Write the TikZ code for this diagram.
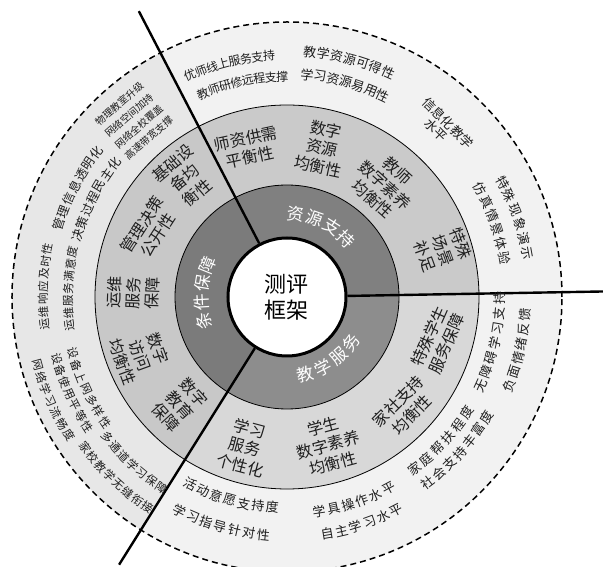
\documentclass[tikz,border=0pt]{standalone}
\usepackage{fontspec}
\setmainfont{Noto Sans CJK SC}
\definecolor{outA}{HTML}{F2F2F2}
\definecolor{outB}{HTML}{E7E7E7}
\definecolor{outC}{HTML}{F2F2F2}
\definecolor{midA}{HTML}{CACACA}
\definecolor{midB}{HTML}{C8C8C8}
\definecolor{midC}{HTML}{D8D8D8}
\definecolor{inA}{HTML}{808080}
\definecolor{inB}{HTML}{7B7B7B}
\definecolor{inC}{HTML}{8D8D8D}
\definecolor{txt}{HTML}{1E1E1E}
% #1 name, #2 style, #3 centre angle, #4 radius, #5 step, #6 dir (1 cw tops out, -1 ccw tops in), #7 chars
\newcommand\arctxt[7]{%
  \gdef\arcn{0}%
  \foreach \c in {#7}{\pgfmathtruncatemacro\arcm{\arcn+1}\global\let\arcn\arcm}%
  \foreach \c [count=\i] in {#7}{%
    \pgfmathsetmacro\th{#3-#6*(\i-(\arcn+1)/2)*#5/#4*180/pi}%
    \pgfmathsetmacro\rr{\th-#6*90}%
    \node[#2,rotate=\rr] (#1-\i) at (\th:#4) {\c};
  }}
\begin{document}
\begin{tikzpicture}[x=1pt,y=1pt,
  ringtxt/.style={inner sep=0pt, text=white, font=\fontsize{17}{17}\selectfont},
  midtxt/.style={inner sep=0pt, text=txt, font=\fontsize{16}{19}\selectfont, align=center},
  outtxt/.style={inner sep=0pt, text=txt, font=\fontsize{13}{13}\selectfont},
  outtxtM/.style={inner sep=0pt, text=txt, font=\fontsize{12.5}{12.5}\selectfont},
  outtxtS/.style={inner sep=0pt, text=txt, font=\fontsize{12}{12}\selectfont},
  outtxtL/.style={inner sep=0pt, text=txt, font=\fontsize{11.5}{11.5}\selectfont},
  outblk/.style={inner sep=0pt, text=txt, font=\fontsize{13}{14.5}\selectfont},
  tinyblk/.style={inner sep=0pt, text=txt, font=\fontsize{10}{15}\selectfont, align=center},
  divider/.style={line width=2.4pt, black},
  ringline/.style={line width=0.8pt, black},
]
\useasboundingbox (-287,-270) rectangle (316,297);
\def\aA{1}\def\aB{117.4}\def\aC{237.9}\def\aD{361}
% outer ring sectors
\fill[outA] (0,0) -- (\aA:275) arc[start angle=\aA, end angle=\aB, radius=275] -- cycle;
\fill[outB] (0,0) -- (\aB:275) arc[start angle=\aB, end angle=\aC, radius=275] -- cycle;
\fill[outC] (0,0) -- (\aC:275) arc[start angle=\aC, end angle=\aD, radius=275] -- cycle;
% middle ring sectors
\fill[midA] (0,0) -- (\aA:192) arc[start angle=\aA, end angle=\aB, radius=192] -- cycle;
\fill[midB] (0,0) -- (\aB:192) arc[start angle=\aB, end angle=\aC, radius=192] -- cycle;
\fill[midC] (0,0) -- (\aC:192) arc[start angle=\aC, end angle=\aD, radius=192] -- cycle;
% inner ring sectors
\fill[inA] (0,0) -- (\aA:112) arc[start angle=\aA, end angle=\aB, radius=112] -- cycle;
\fill[inB] (0,0) -- (\aB:112) arc[start angle=\aB, end angle=\aC, radius=112] -- cycle;
\fill[inC] (0,0) -- (\aC:112) arc[start angle=\aC, end angle=\aD, radius=112] -- cycle;
% ring borders
\draw[ringline] (0,0) circle[radius=192];
\draw[ringline] (0,0) circle[radius=112];
\draw[line width=1.5pt, dash pattern=on 6pt off 4pt] (0,0) circle[radius=275];
% centre
\node[circle, draw, line width=3pt, fill=white, minimum size=118pt, inner sep=0pt,
      font=\fontsize{22}{26}\selectfont, align=center] (core) at (0,0) {测评\\框架};
% dividers
\coordinate (e1) at (117.4:322);
\coordinate (e2) at (1:320);
\coordinate (e3) at (237.9:316);
\draw[divider] (core) -- (e1);
\draw[divider] (core) -- (e2);
\draw[divider] (core) -- (e3);
% inner ring labels
\arctxt{r1}{ringtxt}{64}{83}{19}{1}{资,源,支,持}
\arctxt{r2}{ringtxt}{177}{86}{19}{1}{条,件,保,障}
\arctxt{r3}{ringtxt}{-56}{79}{19}{-1}{教,学,服,务}
% middle ring labels
\node[midtxt, rotate=12] (m1) at (-39,149) {师资供需\\平衡性};
\node[midtxt, rotate=-12] (m2) at (35,149) {数字\\资源\\均衡性};
\node[midtxt, rotate=-42] (m3) at (98,112) {教师\\数字素养\\均衡性};
\node[midtxt, rotate=-70] (m4) at (156,47) {特殊\\场景\\补足};
\node[midtxt, rotate=40] (m5) at (-102,119) {基础设\\备均\\衡性};
\node[midtxt, rotate=57] (m6) at (-137,67) {管理决策\\公开性};
\node[midtxt, rotate=88] (m7) at (-154,4) {运维\\服务\\保障};
\node[midtxt, rotate=-70] (m8) at (-147,-58) {数字\\访问\\均衡性};
\node[midtxt, rotate=-48] (m9) at (-107,-108) {数字\\教育\\保障};
\node[midtxt, rotate=-15] (m10) at (-42,-150) {学习\\服务\\个性化};
\node[midtxt, rotate=15] (m11) at (41,-148) {学生\\数字素养\\均衡性};
\node[midtxt, rotate=45] (m12) at (118,-111) {家社支持\\均衡性};
\node[midtxt, rotate=66] (m13) at (151,-43) {特殊学生\\服务保障};
% outer ring labels
\arctxt{o1}{outtxtS}{103.9}{242}{11.6}{1}{优,师,线,上,服,务,支,持}
\arctxt{o2}{outtxtS}{101.8}{220}{11.6}{1}{教,师,研,修,远,程,支,撑}
\arctxt{o3}{outtxt}{75.2}{246}{13.6}{1}{教,学,资,源,可,得,性}
\arctxt{o4}{outtxt}{74.7}{223}{13.2}{1}{学,习,资,源,易,用,性}
\node[outblk, rotate=-45] (o5a) at (161,174) {信息化教学};
\node[outblk, rotate=-45] (o5b) at (149,167) {水平};
\arctxt{o6}{outtxt}{19.2}{244}{15}{1}{特,殊,现,象,演,示}
\arctxt{o7}{outtxt}{19.8}{221}{14.7}{1}{仿,真,情,景,体,验}
\node[tinyblk, rotate=41] (o8) at (-153,176) {物理教室升级\\网络空间加持\\网络全校覆盖\\高速带宽支撑};
\arctxt{o9}{outtxtM}{152.6}{239}{13.5}{1}{管,理,信,息,透,明,化}
\arctxt{o10}{outtxtM}{153}{218}{13.5}{1}{决,策,过,程,民,主,化}
\arctxt{o11}{outtxtL}{177.5}{244}{12.6}{1}{运,维,响,应,及,时,性}
\arctxt{o12}{outtxtL}{177.8}{219}{12.2}{1}{运,维,服,务,满,意,度}
\arctxt{o13}{outtxtL}{204.6}{221}{12.8}{-1}{设,备,上,网,多,样,性}
\arctxt{o14}{outtxtL}{204}{238}{12.4}{-1}{设,备,使,用,平,等,性}
\arctxt{o15}{outtxtL}{203.8}{258}{12.8}{-1}{网,络,学,习,流,畅,度}
\arctxt{o16}{outtxtL}{227.4}{228}{12.3}{-1}{多,通,道,学,习,保,障}
\arctxt{o17}{outtxtL}{226.6}{252}{12.4}{-1}{家,校,教,学,无,缝,衔,接}
\arctxt{o18}{outtxt}{254.3}{211}{14.3}{-1}{活,动,意,愿,支,持,度}
\arctxt{o19}{outtxt}{253.8}{239}{14.6}{-1}{学,习,指,导,针,对,性}
\arctxt{o20}{outtxt}{288.3}{217}{14.8}{-1}{学,具,操,作,水,平}
\arctxt{o21}{outtxt}{288.4}{240}{14.7}{-1}{自,主,学,习,水,平}
\arctxt{o22}{outtxt}{316.9}{214}{15.5}{-1}{家,庭,帮,扶,程,度}
\arctxt{o23}{outtxt}{318}{233}{14.8}{-1}{社,会,支,持,丰,富,度}
\arctxt{o24}{outtxt}{347.5}{213}{15}{-1}{无,障,碍,学,习,支,持}
\arctxt{o25}{outtxt}{347}{239}{14.5}{-1}{负,面,情,绪,反,馈}
\end{tikzpicture}
\end{document}
